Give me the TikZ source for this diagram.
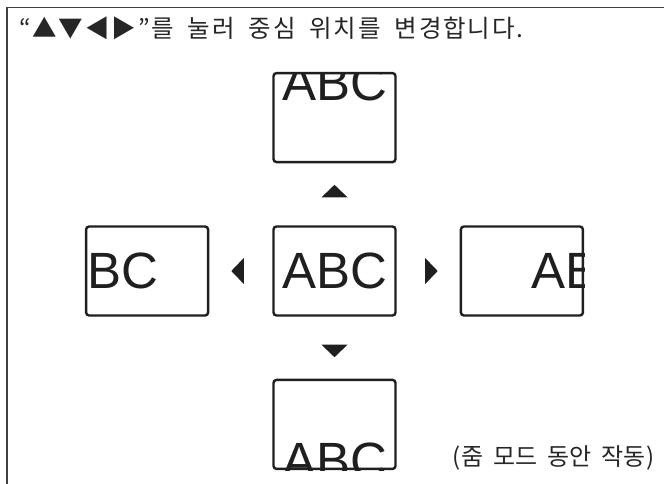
\documentclass[tikz,border=0pt]{standalone}
\usepackage{fontspec}
\newfontfamily\krfont{Noto Sans CJK KR}[LetterSpace=7.5, WordSpace=1.9]
\newfontfamily\hintfont{Noto Sans CJK KR}[LetterSpace=3, WordSpace=1.5]
\newfontfamily\abcfont{Liberation Sans}
\usetikzlibrary{positioning, calc}

\begin{document}
\begin{tikzpicture}[
  x=1pt, y=1pt,
  screen/.style={draw=black!88, line width=2.4pt, rounded corners=3pt,
                 minimum width=122pt, minimum height=89pt, inner sep=0pt},
  abc/.style={inner sep=0pt, font=\abcfont\fontsize{51}{51}\selectfont, text=black!88},
  note/.style={font=\krfont\fontsize{24.5}{24.5}\selectfont, text=black!85, inner sep=0pt},
  hint/.style={note, font=\hintfont\fontsize{24}{24}\selectfont},
  tri/.style={fill=black!88},
  frame/.style={draw=black!75, line width=1.8pt},
  node distance=62pt and 63pt
]
\useasboundingbox (0,0) rectangle (664,-483);

% outer frame, open at right and bottom
\coordinate (frame bl) at (7,-486);
\coordinate (frame tr) at (667,-7.5);
\draw[frame] (frame bl) |- (frame tr);

\node[note, anchor=west] (title) at (19,-28.5) {“▲▼◀▶”를 눌러 중심 위치를 변경합니다.};

\node[screen] (mid) at (334.5,-271) {};
\node[screen, above=of mid] (top)    {};
\node[screen, below=of mid] (bottom) {};
\node[screen, left=of mid]  (left)   {};
\node[screen, right=of mid] (right)  {};

% the picture inside each screen, moved and cut at the frame
\foreach \b/\dx/\dy in {mid/0/0, top/0/35, bottom/0/-37, left/-41/0, right/62/0} {
  \begin{scope}
    \clip[rounded corners=3pt] (\b.south west) rectangle (\b.north east);
    \node[abc] (\b-abc) at ([shift={(\dx,\dy)}]\b.center) {ABC};
  \end{scope}
}

% direction marks between the screens
\foreach \b/\r in {top/90, bottom/270, left/180, right/0}
  \fill[tri, shift={($(mid)!0.5!(\b)$)}, rotate=\r] (9.5,0) -- (-3,13) -- (-3,-13) -- cycle;

\node[hint, anchor=east] (hint) at (655,-457.5) {(줌 모드 동안 작동)};

\end{tikzpicture}
\end{document}
